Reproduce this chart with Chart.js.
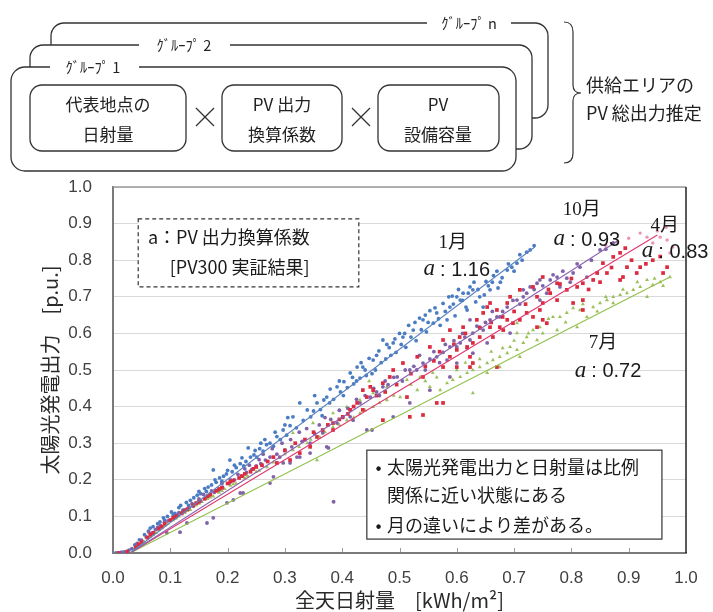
<!DOCTYPE html>
<html lang="ja">
<head>
<meta charset="utf-8">
<title>太陽光発電出力と全天日射量</title>
<script src="https://cdn.jsdelivr.net/npm/chart.js@4/dist/chart.umd.min.js"></script>
<style>
  html, body { margin: 0; padding: 0; background: #fff; }
  #wrap { position: relative; width: 713px; height: 612px; overflow: hidden; }
  #chart { position: absolute; left: 0; top: 0; }
  #diagram { position: absolute; left: 0; top: 0; }
  #diagram text { font-family: "Noto Sans CJK JP", "Noto Sans", sans-serif; fill: #222; }
</style>
</head>
<body>
<div id="wrap">
  <canvas id="chart" width="713" height="612"></canvas>
  <svg id="diagram" width="713" height="180" viewBox="0 0 713 180">
    <g stroke="#333" stroke-width="1.3" fill="#fff">
      <!-- グループ n -->
      <rect x="51" y="23" width="497" height="95" rx="13"/>
      <rect x="427" y="17" width="84" height="12" stroke="none"/>
      <text x="469" y="22" font-size="14.5" text-anchor="middle" dominant-baseline="central" stroke="none">ｸﾞﾙｰﾌﾟ n</text>
      <!-- グループ 2 -->
      <rect x="30" y="45" width="502" height="104" rx="13"/>
      <rect x="139" y="39" width="91" height="12" stroke="none"/>
      <text x="184" y="44" font-size="14.5" text-anchor="middle" dominant-baseline="central" stroke="none">ｸﾞﾙｰﾌﾟ 2</text>
      <!-- グループ 1 -->
      <rect x="11" y="67" width="505" height="104" rx="14"/>
      <rect x="50" y="61" width="89" height="12" stroke="none"/>
      <text x="93" y="66" font-size="14.5" text-anchor="middle" dominant-baseline="central" stroke="none">ｸﾞﾙｰﾌﾟ 1</text>
      <!-- 3 factors -->
      <rect x="30" y="85" width="156" height="66" rx="12"/>
      <rect x="222" y="85" width="120" height="66" rx="12"/>
      <rect x="378" y="85" width="121" height="66" rx="12"/>
    </g>
    <g font-size="17" text-anchor="middle" dominant-baseline="central">
      <text x="108" y="103">代表地点の</text>
      <text x="108" y="133">日射量</text>
      <text x="282" y="103">PV 出力</text>
      <text x="282" y="133">換算係数</text>
      <text x="438" y="103">PV</text>
      <text x="438" y="133">設備容量</text>
    </g>
    <g stroke="#333" stroke-width="1.2" fill="none">
      <line x1="196" y1="108" x2="214" y2="126"/>
      <line x1="196" y1="126" x2="214" y2="108"/>
      <line x1="352" y1="108" x2="370" y2="126"/>
      <line x1="352" y1="126" x2="370" y2="108"/>
      <path d="M564,22 Q573,22 573,32 L573,85 Q573,93 581,93 Q573,93 573,101 L573,153 Q573,163 564,163"/>
    </g>
    <g font-size="18" dominant-baseline="central">
      <text x="586" y="84">供給エリアの</text>
      <text x="586" y="112">PV 総出力推定</text>
    </g>
  </svg>
</div>
<script>
// Monthly point clouds: [全天日射量 kWh/m², 太陽光発電出力 p.u.]
const janPts = [
  [0.005,0.000],[0.015,0.002],[0.028,0.008],[0.038,0.022],[0.046,0.036],[0.055,0.050],[0.062,0.060],[0.070,0.072],
  [0.078,0.080],[0.082,0.085],[0.088,0.096],[0.095,0.100],[0.102,0.112],[0.108,0.108],[0.115,0.124],[0.122,0.117],
  [0.128,0.138],[0.135,0.144],[0.141,0.151],[0.147,0.158],[0.153,0.162],[0.160,0.176],[0.166,0.180],[0.172,0.186],
  [0.175,0.227],[0.180,0.193],[0.186,0.205],[0.193,0.210],[0.198,0.216],[0.204,0.254],[0.208,0.222],[0.215,0.233],
  [0.222,0.244],[0.228,0.238],[0.236,0.287],[0.240,0.262],[0.246,0.268],[0.251,0.262],[0.256,0.285],[0.262,0.278],
  [0.268,0.296],[0.274,0.300],[0.280,0.292],[0.286,0.318],[0.292,0.310],[0.297,0.336],[0.303,0.322],[0.309,0.348],
  [0.314,0.372],[0.320,0.342],[0.326,0.410],[0.332,0.362],[0.339,0.391],[0.345,0.372],[0.350,0.388],[0.356,0.410],
  [0.362,0.392],[0.368,0.418],[0.373,0.426],[0.379,0.448],[0.385,0.420],[0.391,0.454],[0.397,0.440],[0.403,0.468],
  [0.409,0.452],[0.414,0.492],[0.420,0.462],[0.426,0.508],[0.431,0.478],[0.436,0.508],[0.442,0.485],[0.447,0.532],
  [0.454,0.527],[0.458,0.500],[0.464,0.552],[0.471,0.582],[0.476,0.530],[0.482,0.561],[0.489,0.574],[0.494,0.548],
  [0.500,0.600],[0.506,0.590],[0.511,0.562],[0.516,0.622],[0.524,0.609],[0.529,0.580],[0.535,0.642],[0.541,0.637],
  [0.547,0.604],[0.553,0.662],[0.559,0.628],[0.565,0.656],[0.571,0.622],[0.576,0.682],[0.583,0.637],[0.588,0.672],
  [0.592,0.702],[0.597,0.648],[0.600,0.700],[0.606,0.691],[0.611,0.710],[0.616,0.672],[0.618,0.664],[0.623,0.727],
  [0.628,0.719],[0.633,0.686],[0.640,0.700],[0.646,0.672],[0.651,0.742],[0.658,0.719],[0.664,0.758],[0.672,0.724],
  [0.679,0.752],[0.688,0.773],[0.696,0.781],[0.705,0.792],[0.714,0.800],[0.722,0.822],[0.728,0.828],
  [0.065,0.068],[0.090,0.090],[0.105,0.104],[0.118,0.130],[0.132,0.130],[0.150,0.168],[0.163,0.168],[0.178,0.200],
  [0.190,0.196],[0.200,0.226],[0.212,0.240],[0.225,0.260],[0.232,0.250],[0.248,0.280],[0.258,0.300],[0.265,0.310],
  [0.283,0.330],[0.300,0.350],[0.305,0.370],[0.352,0.430],[0.365,0.375],[0.378,0.410],[0.395,0.470],[0.402,0.430],
  [0.418,0.480],[0.425,0.470],[0.433,0.520],[0.440,0.500],[0.452,0.490],[0.460,0.540],[0.468,0.520],[0.478,0.570],
  [0.485,0.540],[0.492,0.585],[0.503,0.570],[0.509,0.600],[0.520,0.590],[0.527,0.630],[0.538,0.610],[0.545,0.650],
  [0.550,0.630],[0.562,0.670],[0.568,0.640],[0.580,0.660],[0.586,0.700],[0.594,0.680],[0.603,0.720],[0.610,0.690],
  [0.620,0.710],[0.630,0.740],[0.637,0.720],[0.648,0.705],[0.655,0.730],[0.662,0.740],[0.670,0.770],[0.676,0.740],
  [0.690,0.790],[0.700,0.770],[0.710,0.815],[0.735,0.840]
];
const octPts = [
  [0.010,0.000],[0.020,0.003],[0.033,0.012],[0.042,0.026],[0.050,0.035],[0.058,0.044],[0.066,0.052],[0.074,0.064],
  [0.083,0.075],[0.090,0.084],[0.094,0.055],[0.100,0.090],[0.107,0.096],[0.113,0.104],[0.117,0.057],[0.121,0.112],
  [0.129,0.082],[0.133,0.124],[0.140,0.128],[0.146,0.136],[0.153,0.142],[0.160,0.150],[0.164,0.082],[0.168,0.158],
  [0.175,0.096],[0.177,0.166],[0.184,0.172],[0.191,0.180],[0.199,0.137],[0.202,0.190],[0.210,0.145],[0.212,0.200],
  [0.222,0.164],[0.224,0.210],[0.227,0.164],[0.233,0.220],[0.242,0.228],[0.250,0.238],[0.258,0.244],[0.266,0.254],
  [0.274,0.191],[0.274,0.262],[0.280,0.208],[0.286,0.270],[0.291,0.262],[0.297,0.246],[0.300,0.282],[0.309,0.246],
  [0.312,0.290],[0.321,0.262],[0.326,0.262],[0.330,0.305],[0.344,0.273],[0.344,0.300],[0.352,0.326],[0.366,0.328],
  [0.373,0.290],[0.376,0.287],[0.385,0.140],[0.391,0.355],[0.401,0.370],[0.414,0.372],[0.419,0.363],[0.431,0.410],
  [0.443,0.336],[0.449,0.426],[0.452,0.336],[0.460,0.440],[0.471,0.454],[0.480,0.460],[0.489,0.372],[0.496,0.481],
  [0.505,0.470],[0.518,0.500],[0.518,0.410],[0.530,0.500],[0.541,0.519],[0.553,0.445],[0.553,0.530],[0.565,0.536],
  [0.576,0.548],[0.583,0.527],[0.588,0.563],[0.588,0.481],[0.600,0.563],[0.600,0.519],[0.606,0.574],[0.614,0.590],
  [0.623,0.582],[0.623,0.637],[0.628,0.601],[0.628,0.546],[0.640,0.617],[0.646,0.609],[0.653,0.574],[0.658,0.637],
  [0.670,0.645],[0.675,0.645],[0.688,0.672],[0.693,0.601],[0.705,0.691],[0.716,0.719],[0.716,0.700],[0.728,0.727],
  [0.740,0.737],[0.745,0.746],[0.745,0.691],[0.757,0.710],[0.763,0.746],[0.775,0.754],[0.780,0.727],[0.792,0.751],
  [0.803,0.765],[0.815,0.781],[0.827,0.754],[0.850,0.828],[0.873,0.847],
  [0.062,0.058],[0.078,0.070],[0.096,0.088],[0.115,0.110],[0.125,0.118],[0.138,0.135],[0.150,0.148],[0.158,0.160],
  [0.172,0.170],[0.190,0.190],[0.205,0.200],[0.218,0.215],[0.230,0.230],[0.238,0.240],[0.255,0.255],[0.262,0.270],
  [0.278,0.285],[0.295,0.300],[0.310,0.310],[0.325,0.330],[0.338,0.340],[0.360,0.350],[0.370,0.370],[0.380,0.365],
  [0.395,0.390],[0.410,0.395],[0.425,0.420],[0.440,0.430],[0.455,0.450],[0.465,0.430],[0.475,0.470],[0.490,0.480],
  [0.510,0.500],[0.525,0.510],[0.535,0.540],[0.545,0.500],[0.560,0.550],[0.570,0.520],[0.580,0.570],[0.595,0.580],
  [0.610,0.600],[0.618,0.560],[0.635,0.620],[0.650,0.630],[0.662,0.660],[0.680,0.660],[0.698,0.690],[0.710,0.680],
  [0.722,0.710],[0.735,0.720],[0.750,0.730],[0.768,0.760],[0.785,0.770],[0.798,0.740],[0.810,0.790],[0.835,0.800],
  [0.860,0.830]
];
const aprPts = [
  [0.010,0.000],[0.025,0.004],[0.040,0.016],[0.050,0.030],[0.060,0.042],[0.070,0.055],[0.080,0.066],[0.090,0.080],
  [0.100,0.090],[0.110,0.100],[0.120,0.108],[0.130,0.120],[0.140,0.130],[0.150,0.140],[0.160,0.148],[0.170,0.160],
  [0.180,0.170],[0.190,0.178],[0.200,0.190],[0.210,0.198],[0.220,0.205],[0.230,0.216],[0.240,0.222],[0.250,0.235],
  [0.260,0.240],[0.270,0.250],[0.286,0.246],[0.309,0.254],[0.326,0.273],[0.344,0.290],[0.356,0.317],[0.366,0.336],
  [0.384,0.355],[0.384,0.336],[0.401,0.372],[0.414,0.391],[0.426,0.410],[0.436,0.391],[0.436,0.445],[0.443,0.426],
  [0.449,0.454],[0.454,0.445],[0.471,0.464],[0.471,0.363],[0.483,0.481],[0.489,0.500],[0.506,0.519],[0.513,0.426],
  [0.518,0.372],[0.531,0.536],[0.541,0.481],[0.541,0.377],[0.553,0.563],[0.565,0.410],[0.576,0.410],[0.576,0.582],
  [0.576,0.508],[0.588,0.609],[0.588,0.536],[0.600,0.508],[0.600,0.555],[0.611,0.617],[0.618,0.563],[0.623,0.536],
  [0.623,0.508],[0.628,0.574],[0.628,0.519],[0.635,0.637],[0.640,0.590],[0.646,0.656],[0.653,0.672],[0.658,0.683],
  [0.658,0.617],[0.663,0.590],[0.670,0.664],[0.670,0.508],[0.675,0.617],[0.681,0.609],[0.688,0.637],[0.688,0.683],
  [0.693,0.700],[0.698,0.628],[0.710,0.719],[0.710,0.637],[0.722,0.656],[0.733,0.727],[0.733,0.645],[0.740,0.617],
  [0.745,0.664],[0.750,0.754],[0.750,0.683],[0.750,0.637],[0.757,0.628],[0.763,0.710],[0.775,0.691],[0.775,0.737],
  [0.792,0.719],[0.803,0.683],[0.810,0.727],[0.820,0.737],[0.820,0.691],[0.820,0.664],[0.838,0.746],[0.845,0.765],
  [0.855,0.792],[0.862,0.765],[0.873,0.809],[0.885,0.820],[0.885,0.746],[0.890,0.754],[0.894,0.833],[0.897,0.781],
  [0.914,0.765],[0.920,0.781],[0.942,0.800],[0.967,0.781],
  [0.045,0.024],[0.065,0.050],[0.085,0.072],[0.105,0.096],[0.125,0.115],[0.145,0.136],[0.165,0.155],[0.185,0.175],
  [0.205,0.195],[0.225,0.210],[0.245,0.230],[0.280,0.262],[0.300,0.280],[0.318,0.300],[0.335,0.310],[0.350,0.330],
  [0.375,0.350],[0.395,0.365],[0.410,0.380],[0.420,0.400],[0.460,0.430],[0.475,0.440],[0.495,0.460],[0.520,0.490],
  [0.545,0.510],[0.560,0.525],[0.570,0.550],[0.595,0.570],[0.605,0.590],[0.615,0.600],[0.640,0.615],[0.660,0.630],
  [0.680,0.645],[0.700,0.660],[0.720,0.680],[0.740,0.700],[0.760,0.720],[0.780,0.735],[0.800,0.750],[0.830,0.720],
  [0.850,0.740],[0.870,0.780],[0.905,0.800],[0.930,0.790],[0.955,0.810],[0.960,0.765]
];
const aprHighPts = [
  [0.860,0.840],[0.880,0.850],[0.900,0.860],[0.920,0.874],[0.932,0.863],[0.942,0.847],[0.950,0.880],
  [0.955,0.863],[0.965,0.890],[0.967,0.855],[0.972,0.820],[0.977,0.836]
];
const julPts = [
  [0.020,0.000],[0.035,0.008],[0.045,0.020],[0.055,0.030],[0.065,0.044],[0.075,0.055],[0.085,0.068],[0.095,0.080],
  [0.105,0.090],[0.115,0.100],[0.125,0.110],[0.135,0.118],[0.145,0.130],[0.155,0.140],[0.165,0.148],[0.175,0.155],
  [0.185,0.165],[0.195,0.175],[0.205,0.184],[0.215,0.190],[0.227,0.208],[0.235,0.210],[0.244,0.227],[0.255,0.225],
  [0.269,0.235],[0.291,0.262],[0.291,0.309],[0.314,0.281],[0.314,0.328],[0.339,0.300],[0.349,0.355],[0.356,0.254],
  [0.361,0.317],[0.384,0.344],[0.384,0.382],[0.408,0.363],[0.408,0.399],[0.431,0.382],[0.431,0.418],[0.447,0.470],
  [0.454,0.399],[0.454,0.437],[0.478,0.418],[0.478,0.454],[0.501,0.426],[0.513,0.473],[0.531,0.445],[0.536,0.481],
  [0.553,0.454],[0.558,0.492],[0.571,0.445],[0.583,0.464],[0.593,0.473],[0.606,0.481],[0.618,0.492],[0.628,0.500],
  [0.628,0.437],[0.640,0.508],[0.653,0.519],[0.653,0.492],[0.663,0.527],[0.675,0.536],[0.675,0.508],[0.688,0.546],
  [0.693,0.563],[0.705,0.555],[0.705,0.601],[0.705,0.628],[0.710,0.536],[0.716,0.574],[0.722,0.590],[0.733,0.609],
  [0.740,0.582],[0.745,0.617],[0.757,0.628],[0.768,0.645],[0.775,0.609],[0.780,0.645],[0.792,0.656],[0.803,0.669],
  [0.810,0.617],[0.815,0.664],[0.827,0.645],[0.838,0.672],[0.850,0.683],[0.862,0.691],[0.873,0.700],[0.873,0.683],
  [0.885,0.705],[0.897,0.710],[0.908,0.719],[0.920,0.727],[0.932,0.746],[0.932,0.700],[0.942,0.732],[0.955,0.740],
  [0.972,0.754],
  [0.050,0.025],[0.070,0.050],[0.090,0.074],[0.110,0.095],[0.130,0.115],[0.150,0.135],[0.170,0.152],[0.190,0.170],
  [0.210,0.188],[0.230,0.205],[0.250,0.222],[0.260,0.240],[0.280,0.248],[0.300,0.270],[0.325,0.290],[0.345,0.310],
  [0.370,0.330],[0.395,0.350],[0.420,0.370],[0.440,0.390],[0.465,0.410],[0.490,0.430],[0.520,0.460],[0.545,0.470],
  [0.565,0.480],[0.600,0.500],[0.615,0.520],[0.640,0.530],[0.660,0.550],[0.680,0.560],[0.700,0.580],[0.725,0.600],
  [0.750,0.600],[0.760,0.640],[0.790,0.630],[0.820,0.680],[0.845,0.660],[0.860,0.700],[0.890,0.720],[0.915,0.740],
  [0.945,0.750],[0.960,0.730]
];

// Fitted proportional lines (start, end)
const janFit = [[0.03,0.000],[0.736,0.836]];
const octFit = [[0.03,0.000],[0.880,0.852]];
const aprFit = [[0.03,0.000],[0.950,0.869]];
const julFit = [[0.03,0.000],[0.972,0.754]];

// Month names and PV output conversion coefficients a
const monthNames = ['1月', '10月', '4月', '7月'];
const coefValues = ['1.16', '0.93', '0.83', '0.72'];

// Axis ticks
const axisTicks = [0.0, 0.1, 0.2, 0.3, 0.4, 0.5, 0.6, 0.7, 0.8, 0.9, 1.0];

const toXY = arr => arr.map(([x, y]) => ({ x, y }));

const COLORS = {
  jan: '#4a7cc4', oct: '#8062a8', apr: '#dc2a3e', aprHigh: '#ee93b8', jul: '#9bc05a',
  janLine: '#5a82bf', octLine: '#8a62b0', aprLine: '#e0386e', julLine: '#92c04c'
};

function cloud(data, color, style, radius, order) {
  return {
    data: toXY(data), showLine: false, order,
    pointStyle: style, pointRadius: radius, pointHoverRadius: radius,
    pointBackgroundColor: color, pointBorderColor: color, pointBorderWidth: 0
  };
}
function fit(data, color) {
  return {
    data: toXY(data), showLine: true, order: 0, borderColor: color, borderWidth: 1.1,
    pointRadius: 0, fill: false
  };
}

// Text notes placed in data coordinates
const notePlugin = {
  id: 'notes',
  afterDatasetsDraw(chart) {
    const { ctx, chartArea: a, scales: { x, y } } = chart;
    const X = v => x.getPixelForValue(v);
    const Y = v => y.getPixelForValue(v);
    ctx.save();

    // top and right frame edges
    ctx.lineWidth = 1.5;
    ctx.strokeStyle = '#9a9a9a';
    ctx.beginPath(); ctx.moveTo(a.left, a.top); ctx.lineTo(a.right, a.top); ctx.stroke();
    ctx.strokeStyle = '#222';
    ctx.beginPath(); ctx.moveTo(a.right, a.top); ctx.lineTo(a.right, a.bottom); ctx.stroke();

    // small inner tick marks on the x axis
    ctx.strokeStyle = '#9a9a9a'; ctx.lineWidth = 1;
    axisTicks.slice(1, -1).forEach(v => {
      const px = Math.round(X(v)) + 0.5;
      ctx.beginPath(); ctx.moveTo(px, a.bottom - 1); ctx.lineTo(px, a.bottom - 5); ctx.stroke();
    });

    // dashed note box
    const bx0 = X(0.044), bx1 = X(0.429), by0 = Y(0.913), by1 = Y(0.727);
    ctx.fillStyle = '#fff';
    ctx.fillRect(bx0, by0, bx1 - bx0, by1 - by0);
    ctx.setLineDash([4, 3]); ctx.strokeStyle = '#333'; ctx.lineWidth = 1.2;
    ctx.strokeRect(bx0, by0, bx1 - bx0, by1 - by0);
    ctx.setLineDash([]);
    ctx.fillStyle = '#1a1a1a'; ctx.textBaseline = 'middle'; ctx.textAlign = 'left';
    ctx.font = '18px "Noto Sans CJK JP", "Noto Sans", sans-serif';
    ctx.fillText('a：PV 出力換算係数', X(0.061), Y(0.863));
    ctx.fillText('[PV300 実証結果]', X(0.099), Y(0.781));

    // month labels with coefficients
    const spots = [
      { m: [0.593, 0.847], c: [0.600, 0.773] },
      { m: [0.818, 0.937], c: [0.827, 0.855] },
      { m: [0.963, 0.893], c: [0.981, 0.822] },
      { m: [0.855, 0.574], c: [0.864, 0.495] }
    ];
    spots.forEach((s, i) => {
      ctx.textAlign = 'center';
      ctx.font = '19px "Liberation Serif", "Noto Sans CJK JP", serif';
      ctx.fillText(monthNames[i], X(s.m[0]), Y(s.m[1]));
      const fa = 'italic 23px "Liberation Serif", serif';
      const fb = '20px "Liberation Sans", sans-serif';
      const rest = ': ' + coefValues[i];
      ctx.font = fa; const wa = ctx.measureText('a').width;
      ctx.font = fb; const wb = ctx.measureText(rest).width;
      const gap = 5;
      const x0 = X(s.c[0]) - (wa + gap + wb) / 2;
      const cy = Y(s.c[1]);
      ctx.textAlign = 'left';
      ctx.font = fa; ctx.fillText('a', x0, cy - 1);
      ctx.font = fb; ctx.fillText(rest, x0 + wa + gap, cy);
    });

    // summary box
    const sx0 = X(0.443), sx1 = X(0.958), sy0 = Y(0.281), sy1 = Y(0.038);
    ctx.fillStyle = '#fff';
    ctx.fillRect(sx0, sy0, sx1 - sx0, sy1 - sy0);
    ctx.strokeStyle = '#333'; ctx.lineWidth = 1.2;
    ctx.strokeRect(sx0, sy0, sx1 - sx0, sy1 - sy0);
    ctx.fillStyle = '#1a1a1a'; ctx.textAlign = 'left';
    ctx.font = '18px "Noto Sans CJK JP", "Noto Sans", sans-serif';
    ctx.fillText('•', X(0.458), Y(0.235));
    ctx.fillText('太陽光発電出力と日射量は比例', X(0.478), Y(0.235));
    ctx.fillText('関係に近い状態にある', X(0.478), Y(0.158));
    ctx.fillText('•', X(0.458), Y(0.077));
    ctx.fillText('月の違いにより差がある。', X(0.478), Y(0.077));

    ctx.restore();
  }
};

new Chart(document.getElementById('chart'), {
  type: 'scatter',
  data: {
    datasets: [
      cloud(julPts, COLORS.jul, 'triangle', 2.3, 4),
      cloud(janPts, COLORS.jan, 'circle', 1.9, 3),
      cloud(octPts, COLORS.oct, 'circle', 1.9, 2),
      cloud(aprHighPts, COLORS.aprHigh, 'circle', 1.7, 2),
      cloud(aprPts, COLORS.apr, 'rect', 2.6, 1),
      fit(janFit, COLORS.janLine),
      fit(octFit, COLORS.octLine),
      fit(aprFit, COLORS.aprLine),
      fit(julFit, COLORS.julLine)
    ]
  },
  options: {
    responsive: false,
    animation: false,
    events: [],
    layout: { padding: { left: 0, right: 27, top: 187, bottom: 0 } },
    plugins: { legend: { display: false }, tooltip: { enabled: false } },
    scales: {
      x: {
        type: 'linear', min: 0, max: 1,
        afterBuildTicks: s => { s.ticks = axisTicks.map(v => ({ value: v })); },
        ticks: {
          callback: v => Number(v).toFixed(1),
          color: '#404040', padding: 15, maxRotation: 0, autoSkip: false,
          font: { family: '"Liberation Sans", Arial, sans-serif', size: 17 }
        },
        grid: { display: false, drawTicks: false },
        border: { display: true, color: '#7a7a7a', width: 2 },
        title: {
          display: true, text: '全天日射量　[kWh/m²]', color: '#2a2a2a',
          font: { family: '"Noto Sans CJK JP", "Noto Sans", sans-serif', size: 20 },
          padding: { top: 0, bottom: 0 }
        },
        afterFit: s => { s.height = 59; }
      },
      y: {
        type: 'linear', min: 0, max: 1,
        afterBuildTicks: s => { s.ticks = axisTicks.map(v => ({ value: v })); },
        ticks: {
          callback: v => Number(v).toFixed(1),
          color: '#404040', padding: 21, autoSkip: false,
          font: { family: '"Liberation Sans", Arial, sans-serif', size: 17 }
        },
        grid: { color: '#d9d9d9', lineWidth: 1, drawTicks: false },
        border: { display: true, color: '#7a7a7a', width: 2 },
        title: {
          display: true, text: '太陽光発電出力　[p.u.]', color: '#2a2a2a',
          font: { family: '"Noto Sans CJK JP", "Noto Sans", sans-serif', size: 20 },
          padding: { top: 38, bottom: 0 }
        },
        afterFit: s => { s.width = 113; }
      }
    }
  },
  plugins: [notePlugin]
});
</script>
</body>
</html>
